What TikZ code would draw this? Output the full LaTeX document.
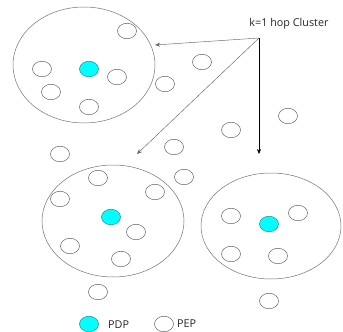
\documentclass[tikz,border=0pt]{standalone}
\usepackage{fontspec}
\setmainfont{Open Sans}
\usetikzlibrary{arrows.meta,shapes.geometric}
\definecolor{pdpfill}{RGB}{0,255,255}
\definecolor{pdpline}{RGB}{40,140,150}
\begin{document}
\begin{tikzpicture}[x=1pt,y=-1pt,
  pep/.style={draw=black!60,line width=0.5pt,ellipse,minimum width=19pt,minimum height=15.5pt,inner sep=0pt},
  pdp/.style={pep,fill=pdpfill,draw=pdpline},
  lbl/.style={font=\fontsize{10.8}{12}\selectfont,text=black!85,inner sep=0pt},
  arr/.style={-{Stealth[length=5pt,width=4pt]},line width=0.45pt}]
\useasboundingbox (0,0) rectangle (343,332);
% big clusters
\draw[draw=black!55,line width=0.5pt] (84,65) ellipse [x radius=71, y radius=58];
\draw[draw=black!55,line width=0.5pt] (113,221) ellipse [x radius=71, y radius=56];
\draw[draw=black!55,line width=0.5pt] (271,226) ellipse [x radius=70, y radius=53];
% top-left cluster
\node[pep] (a1) at (127,31) {};
\node[pep] (a2) at (42,69) {};
\node[pdp] (a0) at (89,69) {};
\node[pep] (a3) at (117,77) {};
\node[pep] (a4) at (51,92) {};
\node[pep] (a5) at (89,107) {};
% loose nodes
\node[pep] (f1) at (202,62) {};
\node[pep] (f2) at (165,84) {};
\node[pep] (f3) at (288,116) {};
\node[pep] (f4) at (231,130) {};
\node[pep] (f5) at (174,147) {};
\node[pep] (f6) at (60,154) {};
\node[pep] (f7) at (184,177) {};
\node[pep] (f8) at (98,292) {};
\node[pep] (f9) at (269,301) {};
% bottom-left cluster
\node[pep] (b1) at (98,178) {};
\node[pep] (b2) at (60,199) {};
\node[pep] (b3) at (155,192) {};
\node[pdp] (b0) at (111,217) {};
\node[pep] (b4) at (136,232) {};
\node[pep] (b5) at (70,246) {};
\node[pep] (b6) at (121,259) {};
% bottom-right cluster
\node[pep] (c1) at (231,216) {};
\node[pdp] (c0) at (269,224) {};
\node[pep] (c2) at (298,213) {};
\node[pep] (c3) at (231,254) {};
\node[pep] (c4) at (278,256) {};
% label and arrows
\node[lbl] (k) at (289,24) {k=1 hop Cluster};
\coordinate (o) at (259,38);
\coordinate (t1) at (155,45);
\coordinate (t2) at (137,154);
\coordinate (t3) at (259,154);
\draw[arr,draw=black!60] (o) -- (t1);
\draw[arr,draw=black!60] (o) -- (t2);
\draw[arr] (o) -- (t3);
% legend
\node[pdp] (lp) at (89,324) {};
\node[lbl,anchor=west] (lpt) at (108,325) {PDP};
\node[pep] (le) at (164,324) {};
\node[lbl,anchor=west] (let) at (177,324) {PEP};
\end{tikzpicture}
\end{document}
